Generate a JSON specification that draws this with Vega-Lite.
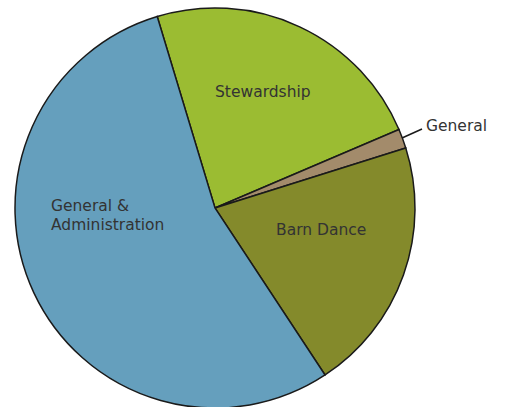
{
  "$schema": "https://vega.github.io/schema/vega-lite/v6.json",
  "width": 400,
  "height": 400,
  "padding": {"left": 12, "top": 5, "right": 0, "bottom": 0},
  "background": "white",
  "config": {"view": {"stroke": null}},
  "layer": [
    {
      "data": {"values": [
        {"category": "Stewardship", "share": 23.25, "rank": 1},
        {"category": "General", "share": 1.56, "rank": 2},
        {"category": "Barn Dance", "share": 20.58, "rank": 3},
        {"category": "General & Administration", "share": 54.61, "rank": 4}
      ]},
      "mark": {"type": "arc", "stroke": "#1a1a1a", "strokeWidth": 1.5},
      "encoding": {
        "theta": {"field": "share", "type": "quantitative", "stack": true, "scale": {"range": [-0.2932, 5.9900]}},
        "order": {"field": "rank", "type": "quantitative"},
        "color": {
          "field": "category", "type": "nominal", "legend": null,
          "scale": {
            "domain": ["Stewardship", "General", "Barn Dance", "General & Administration"],
            "range": ["#9bbc32", "#a38b6b", "#848a2b", "#659fbd"]
          }
        }
      }
    },
    {
      "data": {"values": [{"x1": 0.935, "y1": 0.35, "x2": 1.035, "y2": 0.395}]},
      "mark": {"type": "rule", "stroke": "#1a1a1a", "strokeWidth": 1.5},
      "encoding": {
        "x": {"field": "x1", "type": "quantitative", "axis": null, "scale": {"domain": [-1, 1], "nice": false, "zero": false}},
        "y": {"field": "y1", "type": "quantitative", "axis": null, "scale": {"domain": [-1, 1], "nice": false, "zero": false}},
        "x2": {"field": "x2"},
        "y2": {"field": "y2"}
      }
    },
    {
      "data": {"values": [
        {"label": "Stewardship", "lx": 0.0, "ly": 0.555},
        {"label": "General", "lx": 1.055, "ly": 0.385},
        {"label": "Barn Dance", "lx": 0.305, "ly": -0.135},
        {"label": "General &\nAdministration", "lx": -0.82, "ly": -0.015}
      ]},
      "mark": {"type": "text", "align": "left", "baseline": "alphabetic", "font": "DejaVu Sans", "fontSize": 15.5, "color": "#333333", "lineBreak": "\n", "lineHeight": 19},
      "encoding": {
        "x": {"field": "lx", "type": "quantitative", "axis": null, "scale": {"domain": [-1, 1], "nice": false, "zero": false}},
        "y": {"field": "ly", "type": "quantitative", "axis": null, "scale": {"domain": [-1, 1], "nice": false, "zero": false}},
        "text": {"field": "label"}
      }
    }
  ]
}
